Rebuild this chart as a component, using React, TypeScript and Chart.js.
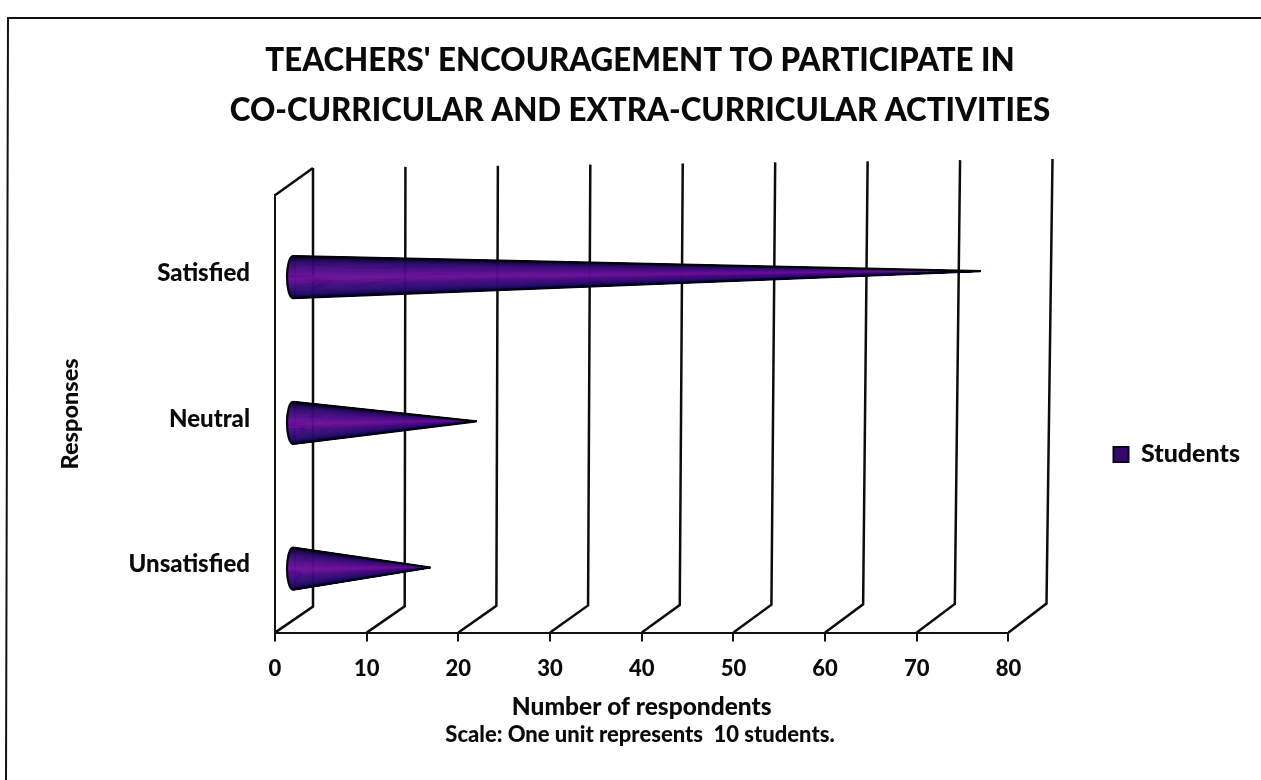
import React, { useEffect, useRef } from "react";
import { Chart, registerables } from "chart.js";

Chart.register(...registerables);

const categories = ["Satisfied", "Neutral", "Unsatisfied"];
const seriesName = "Students";
const studentValues = [75, 20, 15];
const xTicks = [0, 10, 20, 30, 40, 50, 60, 70, 80];
const titleLines = [
  "TEACHERS' ENCOURAGEMENT TO PARTICIPATE IN",
  "CO-CURRICULAR AND EXTRA-CURRICULAR ACTIVITIES",
];
const scaleNote = "Scale: One unit represents  10 students.";
const xAxisTitle = "Number of respondents";
const yAxisTitle = "Responses";

const FONT = "Lato, Carlito, 'Open Sans', sans-serif";
const WEIGHT = "900";
const coneStops: [number, number[]][] = [
  [0, [4, 1, 16]],
  [0.12, [10, 3, 40]],
  [0.28, [48, 8, 112]],
  [0.42, [82, 10, 138]],
  [0.52, [108, 14, 150]],
  [0.62, [66, 10, 128]],
  [0.78, [34, 12, 104]],
  [0.9, [16, 6, 66]],
  [1, [4, 1, 18]],
];

function coneColor(t: number) {
  for (let i = 1; i < coneStops.length; i++) {
    const [p0, c0] = coneStops[i - 1];
    const [p1, c1] = coneStops[i];
    if (t <= p1) {
      const f = (t - p0) / (p1 - p0);
      const m = c0.map((c, k) => Math.round(c + (c1[k] - c) * f));
      return `rgb(${m[0]},${m[1]},${m[2]})`;
    }
  }
  return "rgb(4,1,18)";
}

const wallsPlugin = {
  id: "walls",
  beforeDraw(chart: any) {
    const { ctx, canvas } = chart;
    ctx.save();
    ctx.fillStyle = "#fff";
    ctx.fillRect(0, 0, canvas.width, canvas.height);
    ctx.strokeStyle = "#111";
    ctx.lineWidth = 2;
    ctx.beginPath();
    ctx.moveTo(1261, 18);
    ctx.lineTo(8, 18);
    ctx.lineTo(6, 780);
    ctx.stroke();
    ctx.restore();
  },
  beforeDatasetsDraw(chart: any) {
    const { ctx, scales, chartArea } = chart;
    const xs = scales.x;
    ctx.save();
    ctx.strokeStyle = "#0c0c0c";
    ctx.lineWidth = 2.5;
    ctx.lineJoin = "miter";
    xTicks.forEach((v) => {
      const t = v / 80;
      const fx = xs.getPixelForValue(v);
      const fy = chartArea.bottom;
      ctx.beginPath();
      ctx.moveTo(fx, fy);
      ctx.lineTo(fx + 38, fy - 26 - 3 * t);
      ctx.lineTo(fx + 38 + 6 * t, 168 - 9 * t);
      ctx.stroke();
    });
    ctx.beginPath();
    ctx.moveTo(chartArea.left, chartArea.top);
    ctx.lineTo(xs.getPixelForValue(0) + 38, 168);
    ctx.stroke();
    ctx.restore();
  },
  beforeDatasetDraw() {
    return false;
  },
  afterDatasetsDraw(chart: any) {
    const { ctx } = chart;
    const xs = chart.scales.x;
    const bars = chart.getDatasetMeta(0).data;
    const shiftX = 18;
    const shiftY = 9;
    const ry = 21;
    const rx = 6;
    ctx.save();
    bars.forEach((bar: any) => {
      const bx = xs.getPixelForValue(0) + shiftX;
      const by = bar.y + shiftY;
      const tipX = bar.x + shiftX;
      const tipY = by - 0.0085 * (tipX - bx);
      const N = 60;
      for (let i = 0; i < N; i++) {
        const t = (i + 0.5) / N;
        const a0 = -Math.PI / 2 + (i / N) * Math.PI;
        const a1 = -Math.PI / 2 + ((i + 1) / N) * Math.PI;
        const col = coneColor(t);
        ctx.fillStyle = col;
        ctx.strokeStyle = col;
        ctx.lineWidth = 0.6;
        ctx.beginPath();
        ctx.moveTo(tipX, tipY);
        ctx.lineTo(bx + 2, by + ry * Math.sin(a0));
        ctx.lineTo(bx + 2, by + ry * Math.sin(a1));
        ctx.closePath();
        ctx.fill();
        ctx.stroke();
        ctx.beginPath();
        ctx.moveTo(bx + 2, by + ry * Math.sin(a0));
        ctx.lineTo(bx + 2, by + ry * Math.sin(a1));
        ctx.lineTo(bx - rx * Math.cos(a1), by + ry * Math.sin(a1));
        ctx.lineTo(bx - rx * Math.cos(a0), by + ry * Math.sin(a0));
        ctx.closePath();
        ctx.fill();
        ctx.stroke();
      }
      ctx.strokeStyle = "#05020f";
      ctx.lineWidth = 2.2;
      ctx.beginPath();
      ctx.moveTo(tipX, tipY);
      ctx.lineTo(bx, by - ry);
      ctx.ellipse(bx, by, rx, ry, 0, -Math.PI / 2, Math.PI / 2, true);
      ctx.lineTo(tipX, tipY);
      ctx.stroke();
    });
    ctx.restore();
  },
};

export default function App() {
  const ref = useRef<HTMLCanvasElement>(null);
  useEffect(() => {
    const chart = new Chart(ref.current!, {
      type: "bar",
      data: {
        labels: categories,
        datasets: [
          {
            label: seriesName,
            data: studentValues,
            backgroundColor: "#36086a",
            borderColor: "#0a0420",
            borderWidth: 2,
          },
        ],
      },
      plugins: [wallsPlugin],
      options: {
        indexAxis: "y",
        responsive: false,
        animation: false,
        layout: { padding: { left: 30, right: 11, top: 0, bottom: 0 } },
        plugins: {
          tooltip: { enabled: false },
          title: {
            display: true,
            text: titleLines,
            color: "#0a0a0a",
            font: { family: FONT, size: 31.3, weight: WEIGHT, lineHeight: 1.6 },
            padding: { top: 36, bottom: 59 },
          },
          subtitle: {
            display: true,
            position: "bottom",
            text: scaleNote,
            color: "#0a0a0a",
            font: { family: FONT, size: 22, weight: WEIGHT, lineHeight: 1.2 },
            padding: { top: 0, bottom: 32 },
          },
          legend: {
            display: true,
            position: "right",
            title: { display: true, text: " ", padding: { top: 112, bottom: 0 }, font: { size: 14 } },
            labels: {
              boxWidth: 15,
              boxHeight: 15,
              padding: 4,
              color: "#0a0a0a",
              font: { family: FONT, size: 25, weight: WEIGHT },
            },
          },
        },
        scales: {
          x: {
            type: "linear",
            position: "bottom",
            min: 0,
            max: 80,
            afterFit: (s: any) => { s.height = 89; },
            afterBuildTicks: (s: any) => { s.ticks = xTicks.map((value) => ({ value })); },
            border: { color: "#111", width: 2 },
            grid: { drawOnChartArea: false, drawTicks: true, tickLength: 9, color: "#111", lineWidth: 2 },
            ticks: {
              padding: 14,
              maxRotation: 0,
              color: "#0a0a0a",
              font: { family: FONT, size: 22, weight: WEIGHT },
            },
            title: {
              display: true,
              text: xAxisTitle,
              color: "#0a0a0a",
              font: { family: FONT, size: 24.5, weight: WEIGHT, lineHeight: 1.2 },
              padding: { top: 0, bottom: 0 },
            },
          },
          y: {
            type: "category",
            position: "left",
            afterFit: (s: any) => { s.width = 245; },
            border: { color: "#111", width: 2 },
            grid: { display: false },
            ticks: {
              padding: 17,
              labelOffset: 5,
              color: "#0a0a0a",
              font: { family: FONT, size: 24, weight: WEIGHT },
            },
            title: {
              display: true,
              text: yAxisTitle,
              color: "#0a0a0a",
              font: { family: FONT, size: 23.5, weight: WEIGHT, lineHeight: 1.2 },
              padding: { top: 26, bottom: 0 },
            },
          },
          legendGap: {
            type: "category",
            position: "right",
            display: true,
            afterFit: (s: any) => { s.width = 101; },
            border: { display: false },
            grid: { display: false },
            ticks: { display: false },
          },
        },
      },
    } as any);
    return () => chart.destroy();
  }, []);
  return (
    <div style={{ position: "absolute", left: 0, top: 0, width: 1261, height: 780 }}>
      <canvas ref={ref} width={1261} height={780} style={{ display: "block" }} />
    </div>
  );
}
